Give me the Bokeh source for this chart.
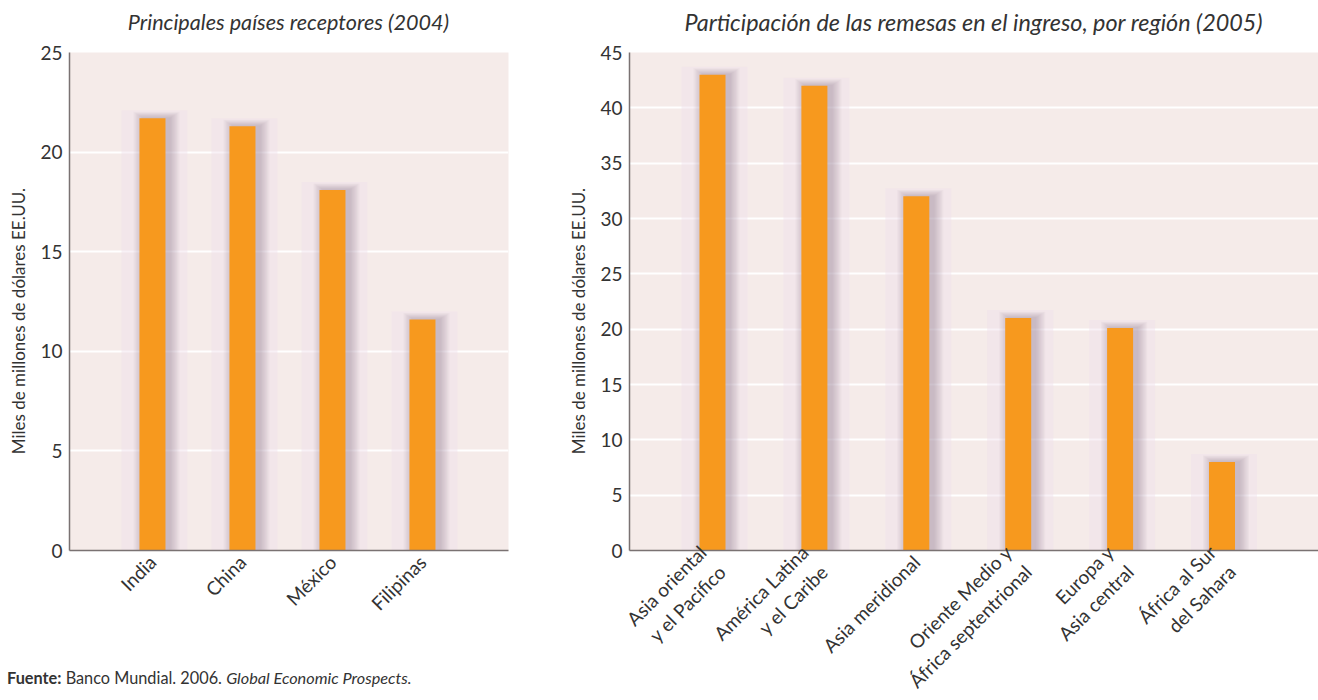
import math
from bokeh.plotting import figure
from bokeh.models import FixedTicker, Range1d, Div, ColumnDataSource
from bokeh.layouts import row, column
from bokeh.embed import file_html
from bokeh.resources import INLINE

# ---------------- data ----------------
countries = ["India", "China", "México", "Filipinas"]
country_values = [21.7, 21.3, 18.1, 11.6]

regions = ["Asia oriental\ny el Pacifico", "América Latina\ny el Caribe", "Asia meridional",
           "Oriente Medio y\nÁfrica septentrional", "Europa y\nAsia central", "África al Sur\ndel Sahara"]
region_values = [43.0, 42.0, 32.0, 21.0, 20.1, 8.0]

left_title = "Principales países receptores (2004)"
right_title = "Participación de las remesas en el ingreso, por región (2005)"
y_label = "Miles de millones de dólares EE.UU."
left_yticks = [0, 5, 10, 15, 20, 25]
right_yticks = [0, 5, 10, 15, 20, 25, 30, 35, 40, 45]

FONT = "Lato"
TEXT = "#333333"
BG = "#f5ebe9"
BAR = "#f7991e"
AXIS = "#7a7272"
TITLE_H = 40


def make_chart(cats, vals, yticks, frame_w, frame_h, x_start, x_end,
               border_left, border_right, border_bottom, bar_px):
    p = figure(frame_width=frame_w, frame_height=frame_h,
               x_range=Range1d(x_start, x_end), y_range=Range1d(yticks[0], yticks[-1]),
               output_backend="svg", toolbar_location=None,
               min_border_left=border_left, min_border_right=border_right,
               min_border_top=52 - TITLE_H, min_border_bottom=border_bottom)
    p.background_fill_color = BG
    p.border_fill_color = "white"
    p.outline_line_color = None

    xs = list(range(len(cats)))
    px_x = frame_w / (x_end - x_start)
    px_y = frame_h / (yticks[-1] - yticks[0])
    bw = bar_px / px_x

    # soft halo + blurred shadow behind the bars
    halo = ColumnDataSource(dict(x=[x + 2 / px_x for x in xs], top=[v + 8 / px_y for v in vals]))
    p.vbar(x="x", top="top", width=bw + 40 / px_x, source=halo, color="#f0e0ec",
           alpha=0.45, line_color=None)
    for k in range(1, 9):
        sh = ColumnDataSource(dict(x=[x + 4 / px_x for x in xs],
                                   top=[v + (k * 0.8) / px_y for v in vals]))
        p.vbar(x="x", top="top", width=bw + (2.5 * k) / px_x, source=sh,
               color="#6f5872", alpha=0.045, line_color=None)

    src = ColumnDataSource(dict(x=xs, top=vals))
    p.vbar(x="x", top="top", width=bw, source=src, color=BAR, line_color=None)

    p.xgrid.grid_line_color = None
    p.ygrid.grid_line_color = "white"
    p.ygrid.grid_line_width = 2
    p.ygrid.ticker = FixedTicker(ticks=yticks)

    p.xaxis.ticker = FixedTicker(ticks=xs)
    p.xaxis.major_label_overrides = {i: c for i, c in enumerate(cats)}
    p.xaxis.major_label_orientation = math.pi / 4
    p.yaxis.ticker = FixedTicker(ticks=yticks)
    p.yaxis.axis_label = y_label + "\u00a0" * 9
    for ax in (p.xaxis[0], p.yaxis[0]):
        ax.axis_line_color = AXIS
        ax.axis_line_width = 1.5
        ax.major_tick_line_color = None
        ax.minor_tick_line_color = None
        ax.major_tick_out = 0
        ax.major_tick_in = 0
        ax.minor_tick_out = 0
        ax.major_label_text_font = FONT
        ax.major_label_text_color = TEXT
        ax.major_label_text_font_size = "19px"
        ax.axis_label_text_font = FONT
        ax.axis_label_text_font_size = "17px"
        ax.axis_label_text_font_style = "normal"
        ax.axis_label_text_color = TEXT
    p.yaxis.major_label_standoff = 7
    p.yaxis.axis_label_standoff = 8
    p.xaxis.major_label_standoff = 8
    return p


def make_title(text, size, frame_w, border_left, total_w):
    return Div(text=(f'<div style="width:{frame_w}px;margin-left:{border_left}px;'
                     f'text-align:center;font-family:Lato;font-style:italic;'
                     f'font-size:{size};line-height:24px;color:{TEXT};padding-top:10px;'
                     f'white-space:nowrap;">{text}</div>'),
               width=total_w, height=TITLE_H, margin=0)


left = make_chart(countries, country_values, left_yticks,
                  439, 498, -0.922, 3.956, 69, 12, 90, 26)
right = make_chart(regions, region_values, right_yticks,
                   689, 498, -0.8145, 5.947, 109, 0, 150, 26)

left_head = make_title(left_title, "21.6px", 439, 69, 520)
right_head = make_title(right_title, "23.4px", 689, 109, 798)

source = Div(text='<div style="font-family:Lato;font-size:16.3px;color:#333333;'
                  'padding-left:7px;padding-top:26px;white-space:nowrap;">'
                  '<b>Fuente:</b> Banco Mundial. 2006. '
                  '<i style="font-size:16.3px;">Global Economic Prospects.</i></div>',
             width=520, height=60, margin=0)

layout = row(column(left_head, left, source, spacing=0),
             column(right_head, right, spacing=0), spacing=0)

open("out.html", "w").write(file_html(layout, INLINE))
